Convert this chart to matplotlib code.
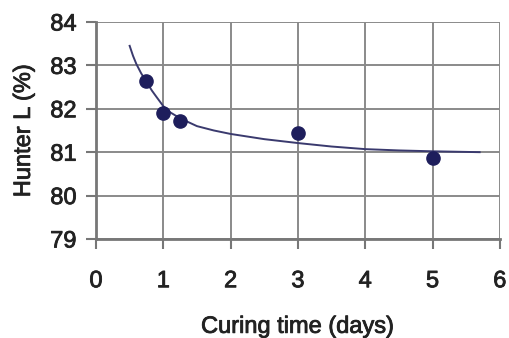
import matplotlib
matplotlib.use("Agg")
import matplotlib.pyplot as plt
import matplotlib.patheffects as pe

plt.rcParams['font.family'] = ['Liberation Sans', 'DejaVu Sans']

# Measured data points
curing_days = [0.75, 1.0, 1.25, 3.0, 5.0]
hunter_l = [82.64, 81.90, 81.72, 81.45, 80.86]

# Trend line
trend_x = [0.5, 0.55, 0.6, 0.67, 0.75, 0.83, 0.9, 1.0, 1.1, 1.25, 1.5, 1.75, 2.0, 2.5, 3.0, 3.5, 4.0, 4.5, 5.0, 5.7]
trend_y = [83.45, 83.22, 83.03, 82.82, 82.62, 82.42, 82.27, 82.06, 81.92, 81.78, 81.60, 81.50, 81.42, 81.30, 81.21, 81.13, 81.07, 81.04, 81.02, 81.00]

x_ticks = [0, 1, 2, 3, 4, 5, 6]
y_ticks = [79, 80, 81, 82, 83, 84]

text_color = '#222222'
thick = [pe.withStroke(linewidth=0.6, foreground=text_color)]

fig = plt.figure(figsize=(5.09, 3.38), dpi=100)
ax = fig.add_axes([0.1886, 0.293, 0.7934, 0.642])

ax.plot(trend_x, trend_y, color='#3a3a6e', lw=1.4, zorder=3)
ax.plot(curing_days, hunter_l, 'o', color='#1e1e5c', markersize=9.5, zorder=4)

ax.set_xlim(0, 6)
ax.set_ylim(79, 84)
ax.set_xticks(x_ticks)
ax.set_yticks(y_ticks)
ax.grid(True, color='#8a8a8a', lw=1.4)
ax.set_axisbelow(True)

for s in ['top', 'right']:
    ax.spines[s].set_visible(False)
for s in ['left', 'bottom']:
    ax.spines[s].set_color('#777777')
    ax.spines[s].set_linewidth(2)

ax.tick_params(axis='x', direction='out', length=7.5, width=1.5, color='#777777',
               pad=15, labelsize=17, labelcolor=text_color)
ax.tick_params(axis='y', direction='out', length=7, width=1.5, color='#777777',
               pad=7, labelsize=17, labelcolor=text_color)

ax.set_xlabel('Curing time (days)', fontsize=17, color=text_color, labelpad=17)
ax.set_ylabel('Hunter L (%)', fontsize=17, color=text_color, labelpad=11)

for t in ax.get_xticklabels() + ax.get_yticklabels() + [ax.xaxis.label, ax.yaxis.label]:
    t.set_path_effects(thick)

fig.savefig('out.png', dpi=100)
